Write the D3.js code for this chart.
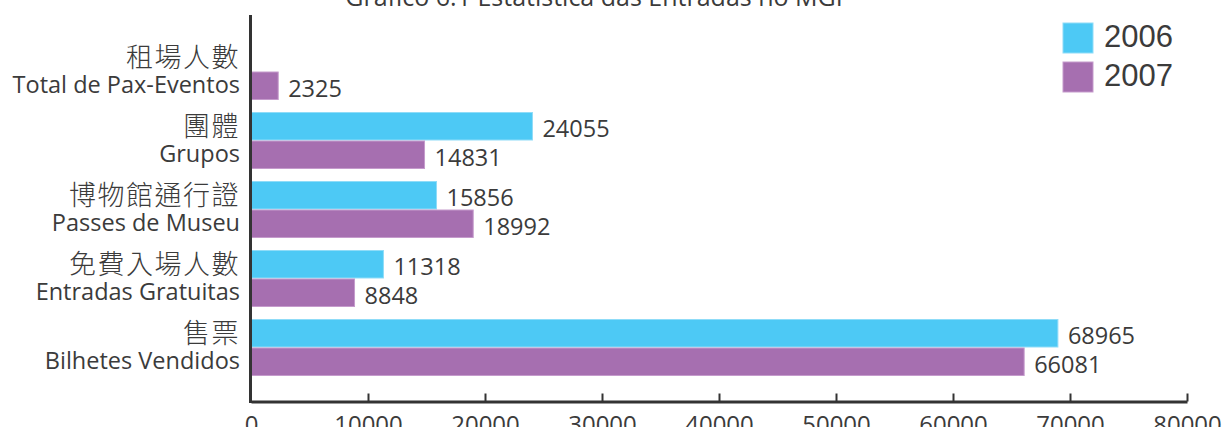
<!DOCTYPE html>
<html>
<head>
<meta charset="utf-8">
<script src="https://cdn.jsdelivr.net/npm/d3@7"></script>
<style>
    body { margin: 0; background: #fff; }
    #chart svg { display: block; }
</style>
</head>
<body>
<div id="chart"></div>
<script>
// data
const categoriesZh = ["租場人數", "團體", "博物館通行證", "免費入場人數", "售票"];
const categoriesPt = ["Total de Pax-Eventos", "Grupos", "Passes de Museu", "Entradas Gratuitas", "Bilhetes Vendidos"];
const seriesNames = ["2006", "2007"];
const values2006 = [null, 24055, 15856, 11318, 68965];
const values2007 = [2325, 14831, 18992, 8848, 66081];
const xTicks = [0, 10000, 20000, 30000, 40000, 50000, 60000, 70000, 80000];
const chartTitle = "Gráfico 6.1 Estatística das Entradas no MGP";

const colors = { "2006": "#4dc9f5", "2007": "#a66fb0" };
const strokes = { "2006": "#8fdcf8", "2007": "#c59bcc" };
const textColor = "#3b3b3b";

function createChart() {
    const width = 1223,
        height = 427;

    const svg = d3.select("#chart")
        .append("svg")
        .attr("width", width)
        .attr("height", height);

    const x = d3.scaleLinear()
        .domain([0, 80000])
        .range([251, 1187]);

    const y = d3.scaleBand()
        .domain(categoriesPt)
        .range([37, 382])
        .paddingInner(0.174)
        .paddingOuter(0.087);

    const ySub = d3.scaleBand()
        .domain(seriesNames)
        .range([0, y.bandwidth()]);

    // title, mostly cut off at the top edge
    svg.append("text")
        .attr("x", 598)
        .attr("y", 6)
        .attr("text-anchor", "middle")
        .style("font-family", "'Open Sans', sans-serif")
        .style("font-size", "25px")
        .style("fill", textColor)
        .text(chartTitle);

    const rows = [];
    for (var i = 0; i < categoriesPt.length; i++) {
        rows.push({ cat: categoriesPt[i], series: "2006", value: values2006[i] });
        rows.push({ cat: categoriesPt[i], series: "2007", value: values2007[i] });
    }
    const data = rows.filter(function (d) { return d.value != null; });

    svg.append("g")
        .attr("id", "bars")
        .selectAll("rect")
        .data(data)
        .enter()
        .append("rect")
        .attr("x", x(0))
        .attr("y", function (d) { return y(d.cat) + ySub(d.series) + 0.5; })
        .attr("width", function (d) { return x(d.value) - x(0); })
        .attr("height", ySub.bandwidth() - 1)
        .style("fill", function (d) { return colors[d.series]; })
        .style("stroke", function (d) { return strokes[d.series]; })
        .style("stroke-width", 1);

    svg.append("g")
        .attr("id", "values")
        .selectAll("text")
        .data(data)
        .enter()
        .append("text")
        .attr("x", function (d) { return x(d.value) + 10; })
        .attr("y", function (d) { return y(d.cat) + ySub(d.series) + ySub.bandwidth() / 2 + 11; })
        .style("font-family", "'Open Sans', sans-serif")
        .style("font-size", "23.5px")
        .style("fill", textColor)
        .text(function (d) { return d.value; });

    // category labels: chinese on top, portuguese below
    const labels = svg.append("g").attr("id", "labels");

    labels.selectAll("text.zh")
        .data(categoriesZh)
        .enter()
        .append("text")
        .attr("class", "zh")
        .attr("x", 240)
        .attr("y", function (d, i) { return y(categoriesPt[i]) + ySub("2006") + ySub.bandwidth() / 2 + 10; })
        .attr("text-anchor", "end")
        .style("font-family", "'Noto Sans CJK TC', sans-serif")
        .style("font-size", "27px")
        .style("font-weight", 300)
        .style("letter-spacing", "1.5px")
        .style("fill", textColor)
        .text(function (d) { return d; });

    labels.selectAll("text.pt")
        .data(categoriesPt)
        .enter()
        .append("text")
        .attr("class", "pt")
        .attr("x", 240)
        .attr("y", function (d) { return y(d) + ySub("2007") + ySub.bandwidth() / 2 + 7; })
        .attr("text-anchor", "end")
        .style("font-family", "'Open Sans', sans-serif")
        .style("font-size", "23.5px")
        .style("fill", textColor)
        .text(function (d) { return d; });

    // axes
    const xAxis = d3.axisBottom(x)
        .tickValues(xTicks)
        .tickSize(0)
        .tickPadding(14)
        .tickFormat(d3.format("d"));

    const gx = svg.append("g")
        .attr("transform", "translate(0,401.5)")
        .call(xAxis);

    gx.select(".domain")
        .attr("stroke", "#333")
        .attr("stroke-width", 3);

    gx.selectAll(".tick text")
        .style("font-family", "'Open Sans', sans-serif")
        .style("font-size", "24px")
        .style("fill", textColor);

    gx.selectAll(".tick")
        .filter(function (d) { return d > 0; })
        .append("line")
        .attr("y1", 0)
        .attr("y2", -8)
        .attr("stroke", "#333")
        .attr("stroke-width", 2);

    svg.append("line")
        .attr("x1", x(0) - 0.5)
        .attr("x2", x(0) - 0.5)
        .attr("y1", 15)
        .attr("y2", 403)
        .attr("stroke", "#333")
        .attr("stroke-width", 3);

    // legend
    const legend = svg.append("g")
        .attr("id", "legend")
        .selectAll("g")
        .data(seriesNames)
        .enter()
        .append("g")
        .attr("transform", function (d, i) { return "translate(1063," + (23 + i * 39) + ")"; });

    legend.append("rect")
        .attr("width", 30)
        .attr("height", 30)
        .style("fill", function (d) { return colors[d]; })
        .style("stroke", function (d) { return strokes[d]; });

    legend.append("text")
        .attr("x", 41)
        .attr("y", 24)
        .style("font-family", "'Liberation Sans', Arial, sans-serif")
        .style("font-size", "31px")
        .style("fill", textColor)
        .text(function (d) { return d; });
}

createChart();
</script>
</body>
</html>
